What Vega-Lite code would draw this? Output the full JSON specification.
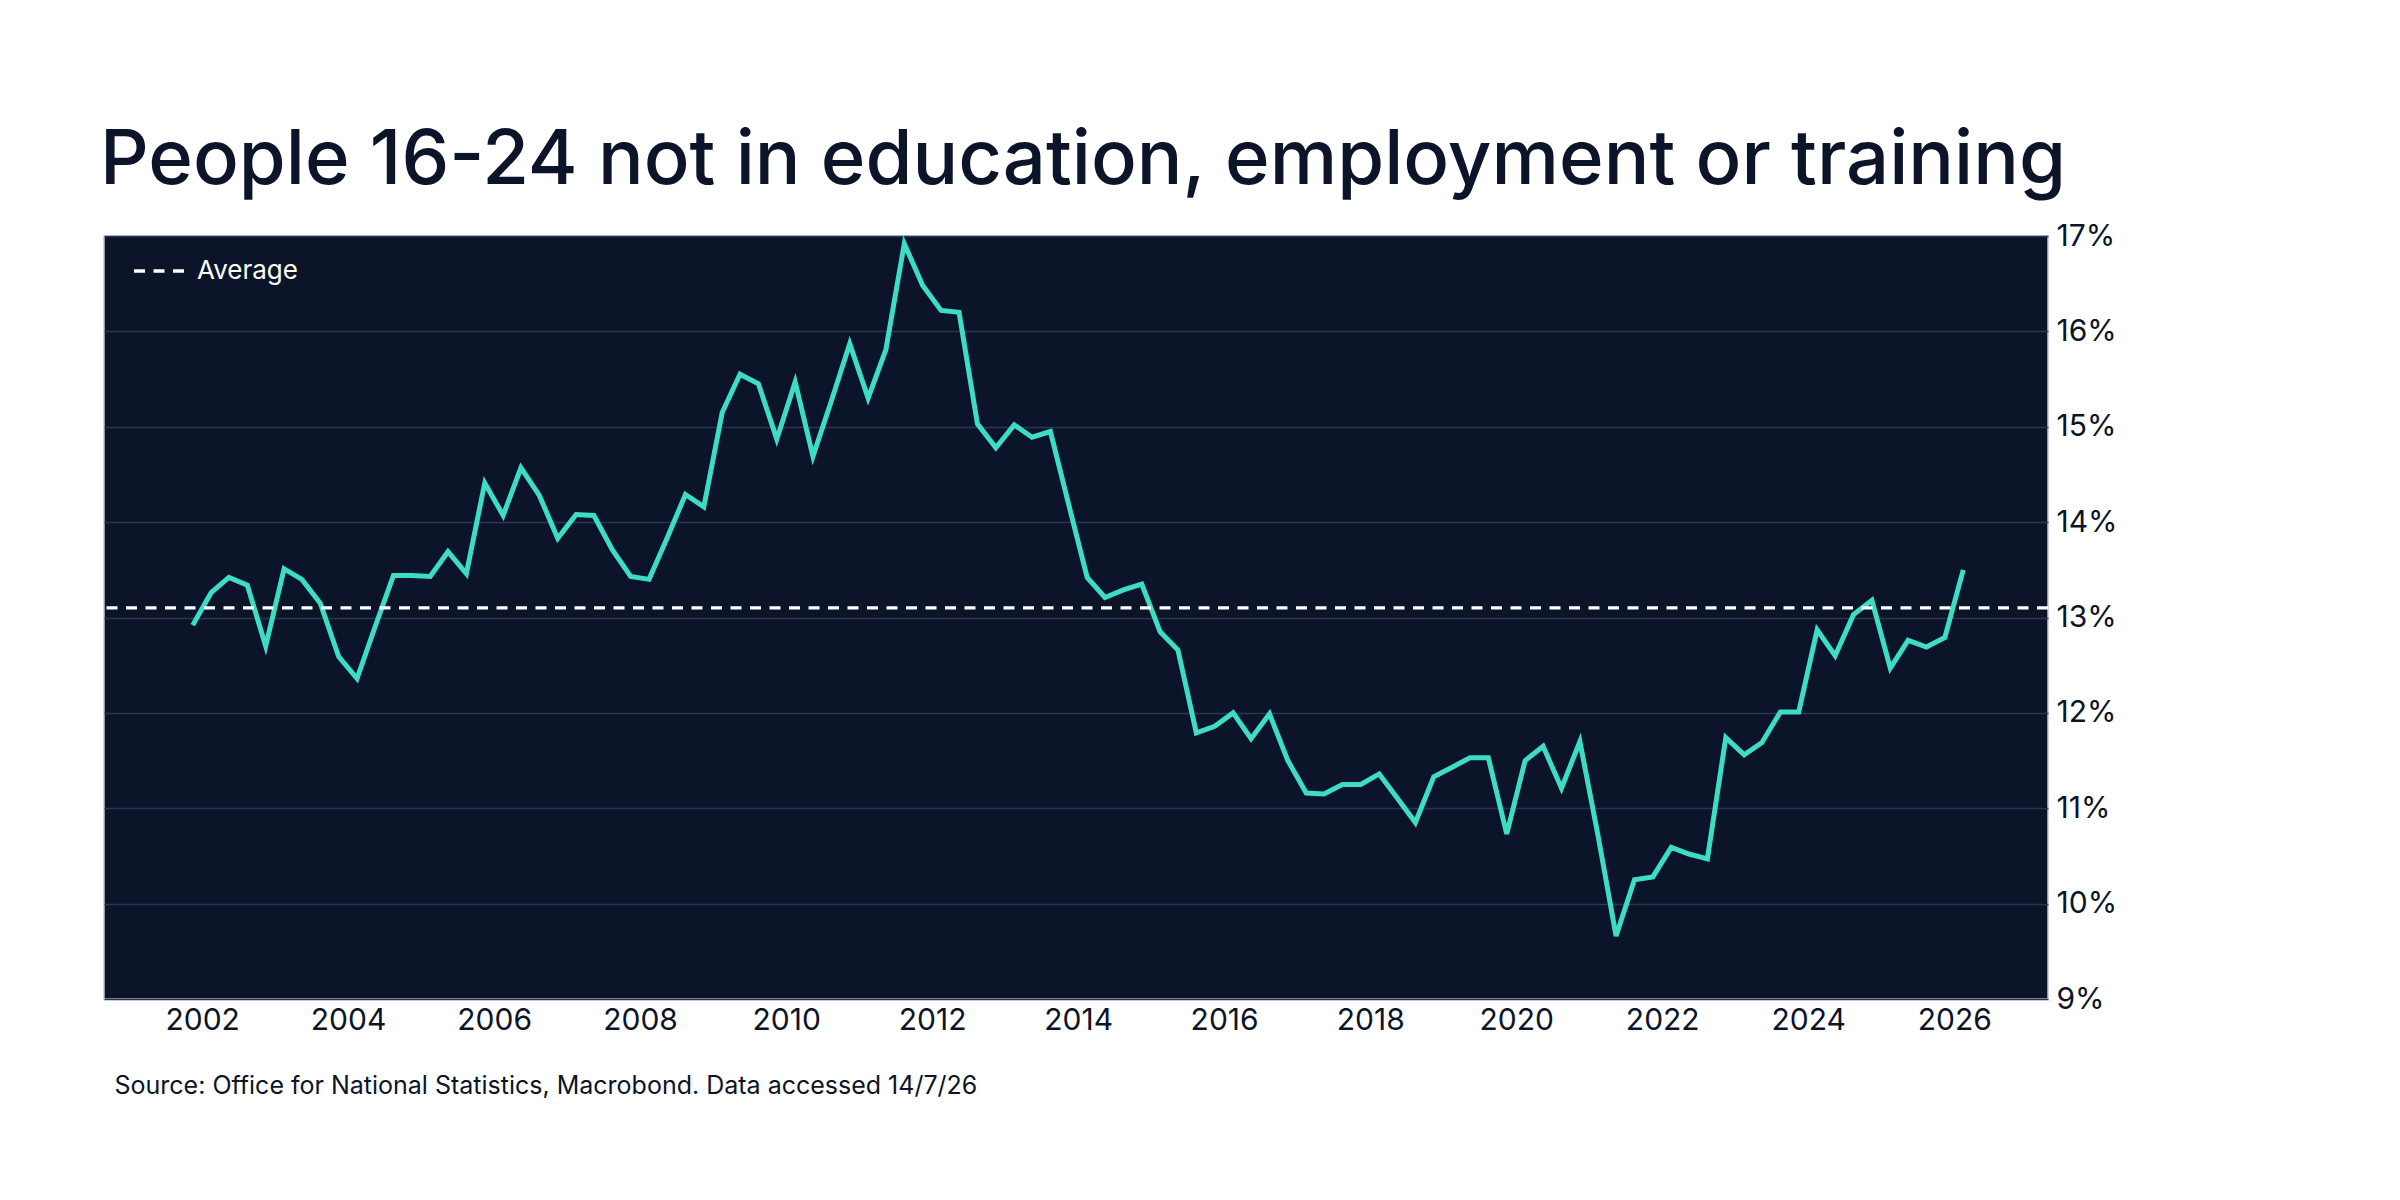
{
  "$schema": "https://vega.github.io/schema/vega-lite/v6.json",
  "width": 1944,
  "height": 763,
  "autosize": {"type": "none"},
  "padding": {"left": 104, "top": 236, "right": 352, "bottom": 201},
  "background": "#ffffff",
  "title": {
    "text": "People 16-24 not in education, employment or training",
    "anchor": "start",
    "frame": "group",
    "font": "Inter",
    "fontSize": 76,
    "fontWeight": 500,
    "color": "#0b1428",
    "baseline": "alphabetic",
    "offset": 51,
    "dx": -4,
    "dy": 90
  },
  "config": {
    "font": "Inter",
    "view": {"fill": "#0b1428", "stroke": "#c4c7cf", "strokeWidth": 1.5}
  },
  "layer": [
    {
      "data": {
        "values": [
          {"date": "2001-11-15", "neet": 12.92},
          {"date": "2002-02-15", "neet": 13.26},
          {"date": "2002-05-15", "neet": 13.42},
          {"date": "2002-08-15", "neet": 13.34},
          {"date": "2002-11-15", "neet": 12.70},
          {"date": "2003-02-15", "neet": 13.51},
          {"date": "2003-05-15", "neet": 13.40},
          {"date": "2003-08-15", "neet": 13.15},
          {"date": "2003-11-15", "neet": 12.59},
          {"date": "2004-02-15", "neet": 12.36},
          {"date": "2004-05-15", "neet": 12.90},
          {"date": "2004-08-15", "neet": 13.44},
          {"date": "2004-11-15", "neet": 13.44},
          {"date": "2005-02-15", "neet": 13.43},
          {"date": "2005-05-15", "neet": 13.69},
          {"date": "2005-08-15", "neet": 13.46},
          {"date": "2005-11-15", "neet": 14.41},
          {"date": "2006-02-15", "neet": 14.07},
          {"date": "2006-05-15", "neet": 14.57},
          {"date": "2006-08-15", "neet": 14.28},
          {"date": "2006-11-15", "neet": 13.83},
          {"date": "2007-02-15", "neet": 14.08},
          {"date": "2007-05-15", "neet": 14.07},
          {"date": "2007-08-15", "neet": 13.71},
          {"date": "2007-11-15", "neet": 13.43},
          {"date": "2008-02-15", "neet": 13.40},
          {"date": "2008-05-15", "neet": 13.83},
          {"date": "2008-08-15", "neet": 14.29},
          {"date": "2008-11-15", "neet": 14.16},
          {"date": "2009-02-15", "neet": 15.15},
          {"date": "2009-05-15", "neet": 15.55},
          {"date": "2009-08-15", "neet": 15.45},
          {"date": "2009-11-15", "neet": 14.87},
          {"date": "2010-02-15", "neet": 15.47},
          {"date": "2010-05-15", "neet": 14.69},
          {"date": "2010-08-15", "neet": 15.27},
          {"date": "2010-11-15", "neet": 15.87},
          {"date": "2011-02-15", "neet": 15.30},
          {"date": "2011-05-15", "neet": 15.81},
          {"date": "2011-08-15", "neet": 16.92},
          {"date": "2011-11-15", "neet": 16.48},
          {"date": "2012-02-15", "neet": 16.22},
          {"date": "2012-05-15", "neet": 16.20},
          {"date": "2012-08-15", "neet": 15.03},
          {"date": "2012-11-15", "neet": 14.78},
          {"date": "2013-02-15", "neet": 15.02},
          {"date": "2013-05-15", "neet": 14.89},
          {"date": "2013-08-15", "neet": 14.95},
          {"date": "2013-11-15", "neet": 14.18},
          {"date": "2014-02-15", "neet": 13.42},
          {"date": "2014-05-15", "neet": 13.21},
          {"date": "2014-08-15", "neet": 13.29},
          {"date": "2014-11-15", "neet": 13.35},
          {"date": "2015-02-15", "neet": 12.85},
          {"date": "2015-05-15", "neet": 12.66},
          {"date": "2015-08-15", "neet": 11.79},
          {"date": "2015-11-15", "neet": 11.86},
          {"date": "2016-02-15", "neet": 12.00},
          {"date": "2016-05-15", "neet": 11.73},
          {"date": "2016-08-15", "neet": 11.99},
          {"date": "2016-11-15", "neet": 11.50},
          {"date": "2017-02-15", "neet": 11.16},
          {"date": "2017-05-15", "neet": 11.15},
          {"date": "2017-08-15", "neet": 11.25},
          {"date": "2017-11-15", "neet": 11.25},
          {"date": "2018-02-15", "neet": 11.36},
          {"date": "2018-05-15", "neet": 11.11},
          {"date": "2018-08-15", "neet": 10.85},
          {"date": "2018-11-15", "neet": 11.33},
          {"date": "2019-02-15", "neet": 11.43},
          {"date": "2019-05-15", "neet": 11.53},
          {"date": "2019-08-15", "neet": 11.53},
          {"date": "2019-11-15", "neet": 10.73},
          {"date": "2020-02-15", "neet": 11.50},
          {"date": "2020-05-15", "neet": 11.65},
          {"date": "2020-08-15", "neet": 11.21},
          {"date": "2020-11-15", "neet": 11.70},
          {"date": "2021-02-15", "neet": 10.70},
          {"date": "2021-05-15", "neet": 9.66},
          {"date": "2021-08-15", "neet": 10.25},
          {"date": "2021-11-15", "neet": 10.28},
          {"date": "2022-02-15", "neet": 10.59},
          {"date": "2022-05-15", "neet": 10.52},
          {"date": "2022-08-15", "neet": 10.47},
          {"date": "2022-11-15", "neet": 11.74},
          {"date": "2023-02-15", "neet": 11.56},
          {"date": "2023-05-15", "neet": 11.69},
          {"date": "2023-08-15", "neet": 12.01},
          {"date": "2023-11-15", "neet": 12.01},
          {"date": "2024-02-15", "neet": 12.87},
          {"date": "2024-05-15", "neet": 12.60},
          {"date": "2024-08-15", "neet": 13.03},
          {"date": "2024-11-15", "neet": 13.18},
          {"date": "2025-02-15", "neet": 12.47},
          {"date": "2025-05-15", "neet": 12.76},
          {"date": "2025-08-15", "neet": 12.69},
          {"date": "2025-11-15", "neet": 12.79},
          {"date": "2026-02-15", "neet": 13.50}
        ]
      },
      "mark": {"type": "line", "color": "#3ddcc4", "strokeWidth": 5, "interpolate": "linear"},
      "encoding": {
        "x": {
          "field": "date",
          "type": "temporal",
          "scale": {"domain": [{"year": 2000, "month": 8, "date": 28}, {"year": 2027, "month": 4, "date": 15}]},
          "axis": {
            "values": [
              {"year": 2002}, {"year": 2004}, {"year": 2006}, {"year": 2008},
              {"year": 2010}, {"year": 2012}, {"year": 2014}, {"year": 2016},
              {"year": 2018}, {"year": 2020}, {"year": 2022}, {"year": 2024},
              {"year": 2026}
            ],
            "format": "%Y",
            "labelFont": "Inter",
            "labelFontSize": 30,
            "labelColor": "#0b1428",
            "labelPadding": 6,
            "labelFlush": false,
            "ticks": false,
            "domain": false,
            "grid": false,
            "title": "Source: Office for National Statistics, Macrobond. Data accessed 14/7/26",
            "titleFont": "Inter",
            "titleFontSize": 25,
            "titleFontWeight": "normal",
            "titleColor": "#0b1428",
            "titleAnchor": "start",
            "titleAlign": "left",
            "titleBaseline": "alphabetic",
            "titleX": 10,
            "titleY": 94
          }
        },
        "y": {
          "field": "neet",
          "type": "quantitative",
          "scale": {"domain": [9, 17], "nice": false, "zero": false},
          "axis": {
            "orient": "right",
            "values": [9, 10, 11, 12, 13, 14, 15, 16, 17],
            "labelExpr": "datum.value + '%'",
            "labelFont": "Inter",
            "labelFontSize": 30,
            "labelColor": "#0b1428",
            "labelPadding": 8,
            "labelBaseline": "middle",
            "labelFlush": false,
            "ticks": false,
            "domain": false,
            "gridColor": "#2b3552",
            "gridWidth": 1.5,
            "title": null
          }
        }
      }
    },
    {
      "data": {"values": [{"series": "Average", "avg": 13.1}]},
      "mark": {"type": "rule", "color": "#ffffff", "strokeWidth": 3.3},
      "encoding": {
        "y": {"field": "avg", "type": "quantitative"},
        "strokeDash": {
          "field": "series",
          "type": "nominal",
          "scale": {"range": [[11, 8.5]]},
          "legend": {
            "orient": "none",
            "legendX": 28,
            "legendY": 7,
            "title": null,
            "labelColor": "#ffffff",
            "labelFont": "Inter",
            "labelFontSize": 26,
            "labelOffset": 9,
            "symbolType": "stroke",
            "symbolStrokeColor": "#ffffff",
            "symbolStrokeWidth": 3.3,
            "symbolSize": 2700
          }
        }
      }
    }
  ]
}
